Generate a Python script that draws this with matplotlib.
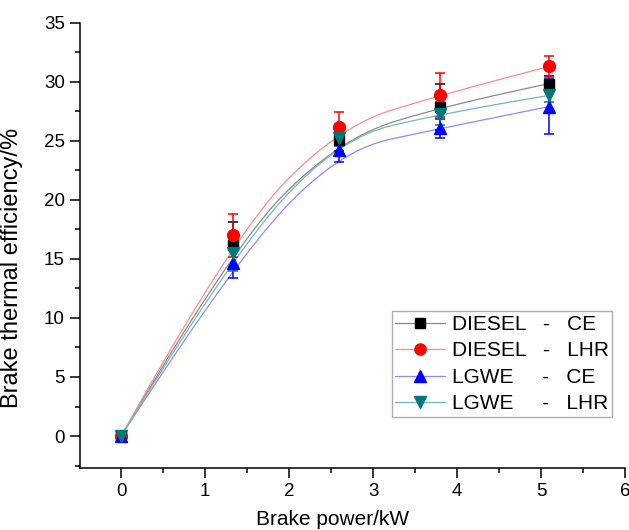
import numpy as np
import matplotlib
matplotlib.use("Agg")
import matplotlib.pyplot as plt
from matplotlib.ticker import MultipleLocator

plt.rcParams['font.family'] = ['Liberation Sans', 'DejaVu Sans']

power = [0, 1.33, 2.6, 3.8, 5.1]
diesel_ce = [0, 16.2, 25.1, 27.9, 29.85]
diesel_ce_err = [0, 1.9, 1.0, 1.95, 0.6]
diesel_lhr = [0, 17.0, 26.2, 28.9, 31.3]
diesel_lhr_err = [0, 1.8, 1.25, 1.85, 0.9]
lgwe_ce = [0, 14.65, 24.2, 26.05, 27.9]
lgwe_ce_err = [0, 1.3, 1.0, 0.8, 2.35]
lgwe_lhr = [0, 15.5, 25.2, 27.3, 28.85]
lgwe_lhr_err = [0, 1.5, 0.6, 1.0, 0.6]

labels = ["DIESEL   -   CE", "DIESEL   -   LHR", "LGWE     -   CE", "LGWE     -   LHR"]


def bspline(xs, ys, n=300, k=2):
    P = np.column_stack([xs, ys]).astype(float)
    m = len(P)
    inner = np.linspace(0, 1, m - k + 1)
    t = np.concatenate([[0] * k, inner, [1] * k])
    u = np.linspace(0, 1, n)
    u[-1] = 1 - 1e-9

    def N(i, p, uu):
        if p == 0:
            return np.where((t[i] <= uu) & (uu < t[i + 1]), 1.0, 0.0)
        a = 0.0
        d1 = t[i + p] - t[i]
        d2 = t[i + p + 1] - t[i + 1]
        if d1 > 0:
            a = a + (uu - t[i]) / d1 * N(i, p - 1, uu)
        if d2 > 0:
            a = a + (t[i + p + 1] - uu) / d2 * N(i + 1, p - 1, uu)
        return a

    C = np.zeros((n, 2))
    for i in range(m):
        C += N(i, k, u)[:, None] * P[i]
    return C[:, 0], C[:, 1]


fig = plt.figure(figsize=(6.29, 5.30), dpi=100)
ax = fig.add_axes([80 / 629, 1 - 467.7 / 530, 545 / 629, 445 / 530])

series = [
    (diesel_ce, diesel_ce_err, 's', 'black', '#8a8a8a', 7),
    (diesel_lhr, diesel_lhr_err, 'o', 'red', '#ff8c8c', 8.5),
    (lgwe_ce, lgwe_ce_err, '^', 'blue', '#8c8cff', 8.5),
    (lgwe_lhr, lgwe_lhr_err, 'v', '#007a78', '#70b8b6', 8.5),
]

handles = []
for (vals, err, mk, col, lcol, ms), lab in zip(series, labels):
    cx, cy = bspline(power, vals)
    ax.plot(cx, cy, color=lcol, lw=0.9, zorder=2)
    ax.errorbar(power, vals, yerr=err, fmt='none', ecolor=col, elinewidth=1.1,
                capsize=3.8, capthick=1.1, zorder=3)
    ax.plot(power, vals, linestyle='none', marker=mk, color=col, ms=ms, zorder=4)
    h, = ax.plot([], [], color=lcol, lw=0.9, marker=mk, mfc=col, mec=col, ms=ms * 0.95)
    handles.append(h)

ax.set_xlim(-0.49, 6)
ax.set_ylim(-2.68, 35)
ax.xaxis.set_major_locator(MultipleLocator(1))
ax.xaxis.set_minor_locator(MultipleLocator(0.5))
ax.yaxis.set_major_locator(MultipleLocator(5))
ax.yaxis.set_minor_locator(MultipleLocator(2.5))
ax.spines['top'].set_visible(False)
ax.spines['right'].set_visible(False)
for s in ['left', 'bottom']:
    ax.spines[s].set_linewidth(1.1)
ax.tick_params(which='major', direction='out', length=7, width=1.1, labelsize=13.5, pad=4)
ax.tick_params(which='minor', direction='out', length=3.5, width=1.1)

ax.set_xlabel('Brake power/kW', fontsize=15)
ax.set_ylabel('Brake thermal efficiency/%', fontsize=17)
ax.xaxis.set_label_coords(0.464, -0.095)
ax.yaxis.set_label_coords(-0.105, 0.45)

leg = ax.legend(handles, labels, loc='upper left', bbox_to_anchor=(0.572, 0.352),
                borderaxespad=0, fontsize=15, frameon=True, fancybox=False,
                handlelength=2.4, handletextpad=0.3, labelspacing=0.36,
                borderpad=0.18, edgecolor='#999999', numpoints=1)
leg.get_frame().set_linewidth(1.0)

fig.savefig('out.png', dpi=100)
